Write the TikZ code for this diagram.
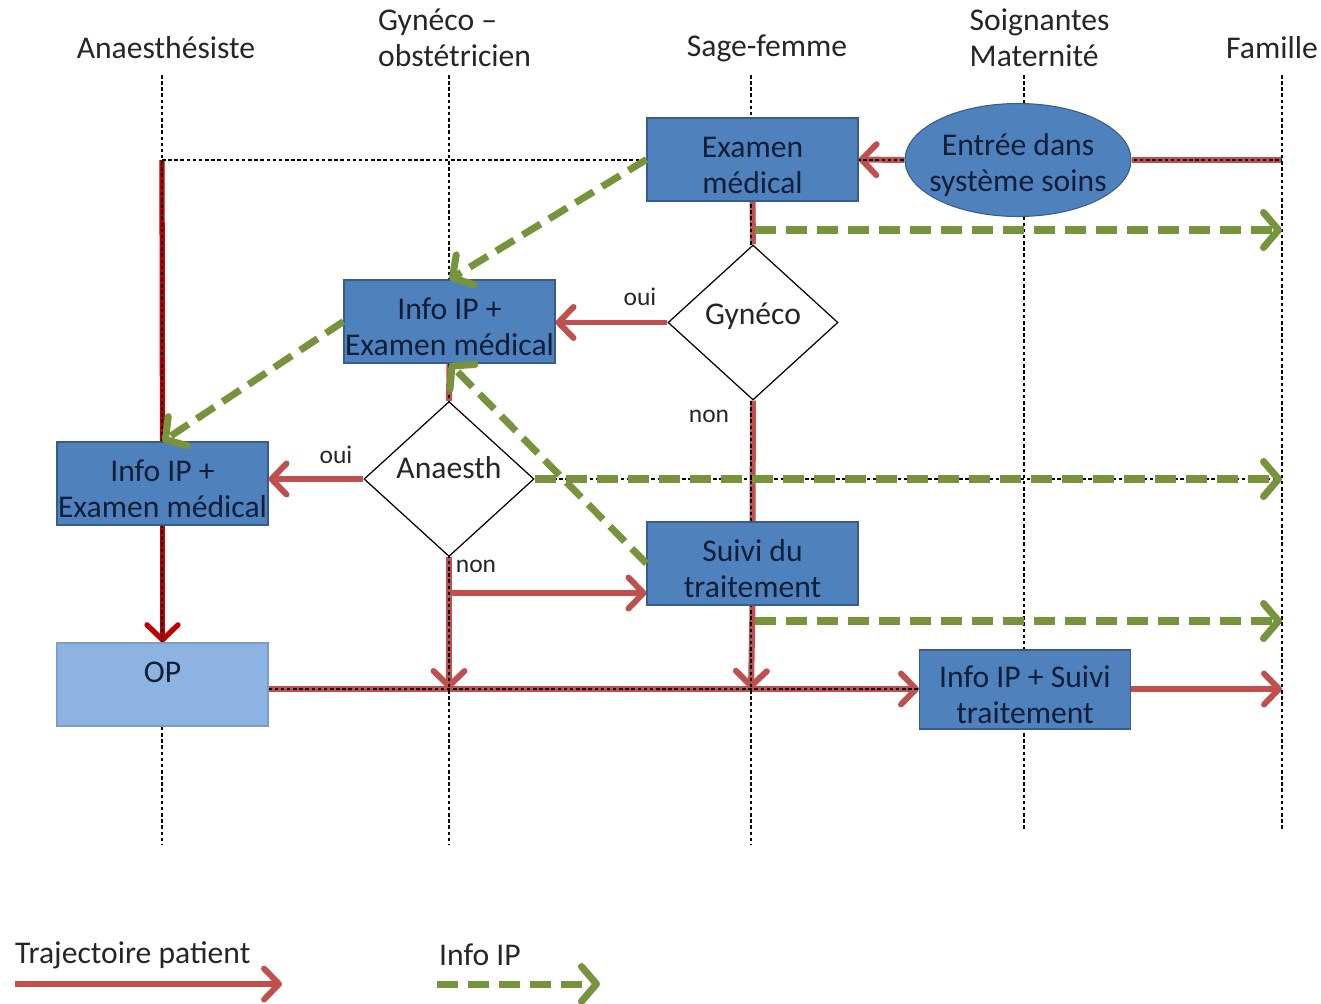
\documentclass[tikz,border=0pt]{standalone}
\usepackage{fontspec}
\setmainfont{Carlito}
\usetikzlibrary{shapes.geometric}
\usetikzlibrary{arrows.meta}
\definecolor{boxblue}{HTML}{4F81BD}
\definecolor{boxedge}{HTML}{385D8A}
\definecolor{oplight}{HTML}{8DB3E2}
\definecolor{opedge}{HTML}{7F9DC4}
\definecolor{patred}{HTML}{C0504D}
\definecolor{deepred}{HTML}{C00000}
\definecolor{infogreen}{HTML}{77933C}
\definecolor{navytext}{HTML}{0F1F3A}
\definecolor{headtext}{HTML}{262626}
\pgfdeclarelayer{trail}
\pgfdeclarelayer{lanes}
\pgfsetlayers{trail,lanes,main}

\begin{document}
\begin{tikzpicture}[every node/.style={font=\fontsize{18}{20.5}\selectfont},
  box/.style={rectangle,draw=boxedge,line width=0.6pt,fill=boxblue,text=navytext,
              minimum width=4.22cm,minimum height=1.66cm,inner sep=0.5pt,align=center,
              text height=39pt},
  choice/.style={diamond,draw=black,line width=0.7pt,fill=white,text=headtext,
                 minimum width=3.4cm,minimum height=3.1cm,inner sep=0pt},
  head/.style={text=headtext,align=left},
  yesno/.style={text=headtext,font=\fontsize{14.5}{17}\selectfont},
  lane/.style={draw=black,line width=0.6pt,dash pattern=on 2pt off 1.5pt},
  patline/.style={draw=patred,line width=3.4pt},
  pat/.style={patline,-{Straight Barb[length=0.3cm,width=0.62cm,round]}},
  info/.style={draw=infogreen,line width=4pt,dash pattern=on 0.42cm off 0.2cm,
               -{Straight Barb[length=0.3cm,width=0.7cm,round]}}]

 \useasboundingbox (0,0) rectangle (26.42,-20.06);

 % headers
 \node[head] (hA) at (3.32,-0.96) {Anaesthésiste};
 \node[head,anchor=west] (hG) at (7.44,-0.76) {Gynéco --\\obstétricien};
 \node[head] (hS) at (15.34,-0.96) {Sage-femme};
 \node[head,anchor=west] (hM) at (19.27,-0.76) {Soignantes\\Maternité};
 \node[head] (hF) at (25.44,-0.96) {Famille};

 % boxes
 \node[box] (EM) at (15.05,-3.19) {Examen\\médical};
 \node[ellipse,draw=boxedge,line width=0.6pt,fill=boxblue,text=navytext,align=center,
       minimum width=4.52cm,minimum height=2.26cm,inner xsep=-0.2cm,inner ysep=0pt,
       text height=39pt] (ENT) at (20.36,-3.2)
       {Entrée dans\\système soins};
 \node[box] (GI) at (8.99,-6.43) {Info IP +\\Examen médical};
 \node[choice,text depth=10pt] (GY) at (15.06,-6.45) {Gynéco};
 \node[box] (AI) at (3.25,-9.67) {Info IP +\\Examen médical};
 \node[choice,text depth=13pt] (AN) at (8.98,-9.58) {Anaesth};
 \node[box] (SU) at (15.05,-11.27) {Suivi du\\traitement};
 \node[box,fill=oplight,draw=opedge] (OP) at (3.25,-13.69) {OP\\~};
 \node[box,minimum height=1.58cm] (IS) at (20.5,-13.79) {Info IP + Suivi\\traitement};

 % free ends
 \coordinate (T) at (3.24,-3.2);
 \coordinate (F1) at (25.64,-3.2);
 \coordinate (F2) at (25.64,-4.6);
 \coordinate (F3) at (25.64,-9.58);
 \coordinate (F4) at (25.64,-12.42);
 \coordinate (F5) at (25.64,-13.78);
 \coordinate (G1) at (15.1,-4.6);
 \coordinate (G2) at (15.1,-12.42);
 \coordinate (M1) at (8.98,-13.78);
 \coordinate (M2) at (15.02,-13.78);
 \coordinate (B1) at (8.98,-11.86);

 % labels
 \node[yesno] (o1) at (12.8,-5.94) {oui};
 \node[yesno] (n1) at (14.18,-8.32) {non};
 \node[yesno] (o2) at (6.72,-9.1) {oui};
 \node[yesno] (n2) at (9.52,-11.32) {non};

 % lanes
 \begin{pgfonlayer}{lanes}
 \foreach \x/\b in {3.24/16.9,8.98/16.9,15.02/16.9,20.48/16.6,25.64/16.6}
   \draw[lane] (\x,-1.5) -- (\x,-\b);
 \draw[lane] (T) -- (F1);
 \draw[lane] (OP.east |- F5) -- (IS.west |- F5);
 \draw[lane] (AN.east) -- (F3);
 \end{pgfonlayer}

 % patient
 \begin{pgfonlayer}{trail}
 \draw[patline] (F1) -- (ENT.east);
 \draw[pat] (ENT.west) -- (EM.east);
 \draw[patline] (EM.south) -- (GY.north);
 \draw[pat] (GY.west) -- (GY.west -| GI.east);
 \draw[patline] (GY.south) -- (SU.north);
 \draw[pat] (SU.south) -- (M2);
 \draw[patline] (GI.south) -- (AN.north);
 \draw[pat] (AN.west) -- (AN.west -| AI.east);
 \draw[pat] (AN.south) -- (M1);
 \draw[pat] (B1) -- (B1 -| SU.west);
 \draw[patline,draw=deepred,line width=3pt] (T) -- (AI.north);
 \draw[pat,draw=deepred,line width=3pt] (AI.south) -- (OP.north);
 \draw[pat] (OP.east |- F5) -- (IS.west |- F5);
 \draw[pat] (IS.east |- F5) -- (F5);
 \end{pgfonlayer}

 % info
 \draw[info] (G1) -- (F2);
 \draw[info] (EM.west) -- (GI.north);
 \draw[info] (GI.west) -- (AI.north);
 \draw[info] (AN.east) -- (F3);
 \draw[info] (SU.west) -- (GI.south);
 \draw[info] (G2) -- (F4);

 % legend
 \node[head,anchor=west] (L1) at (0.18,-19.1) {Trajectoire patient};
 \node[head,anchor=west] (L2) at (8.66,-19.1) {Info IP};
 \coordinate (L1a) at (0.3,-19.68);
 \coordinate (L1b) at (5.64,-19.68);
 \coordinate (L2a) at (8.74,-19.68);
 \coordinate (L2b) at (12.0,-19.68);
 \draw[pat] (L1a) -- (L1b);
 \draw[info] (L2a) -- (L2b);

\end{tikzpicture}
\end{document}
